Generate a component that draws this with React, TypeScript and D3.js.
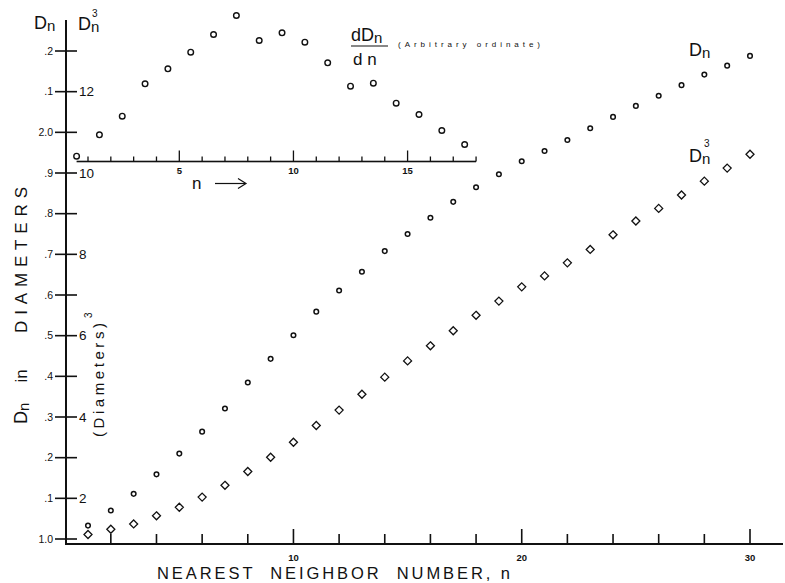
import React from "react";
import * as d3 from "d3";

// Nearest-neighbour number n
const nValues = [1,2,3,4,5,6,7,8,9,10,11,12,13,14,15,16,17,18,19,20,21,22,23,24,25,26,27,28,29,30];
// Distance to the n-th nearest neighbour, in diameters
const dnValues = [1.033,1.070,1.111,1.159,1.210,1.264,1.321,1.385,1.443,1.501,1.559,1.611,1.657,1.708,1.750,1.790,1.829,1.865,1.897,1.929,1.954,1.981,2.010,2.038,2.065,2.090,2.116,2.142,2.164,2.188];
// Cube of that distance, (diameters)^3
const dnCubedValues = [1.11,1.24,1.37,1.57,1.78,2.03,2.32,2.66,3.01,3.38,3.79,4.17,4.56,4.98,5.38,5.75,6.12,6.50,6.85,7.20,7.47,7.79,8.12,8.48,8.82,9.13,9.46,9.80,10.12,10.46];
// Slope dDn/dn between neighbouring n (arbitrary units)
const slopeN = [0.5,1.5,2.5,3.5,4.5,5.5,6.5,7.5,8.5,9.5,10.5,11.5,12.5,13.5,14.5,15.5,16.5,17.5];
const slopeValues = [0.53,2.67,4.53,7.77,9.27,10.93,12.7,14.6,12.1,12.87,11.93,9.87,7.53,7.83,5.83,4.7,3.1,1.7];

// Axis tick values and labels
const dnTicks = [1.0,1.1,1.2,1.3,1.4,1.5,1.6,1.7,1.8,1.9,2.0,2.1,2.2];
const dnTickLabels = ["1.0",".1",".2",".3",".4",".5",".6",".7",".8",".9","2.0",".1",".2"];
const cubeTicks = [2,4,6,8,10,12];
const mainXTicks = [2,4,6,8,10,12,14,16,18,20,22,24,26,28,30];
const mainXLabels = [10,20,30];
const insetTicks = [1,2,3,4,5,6,7,8,9,10,11,12,13,14,15,16,17,18];
const insetLabels = [5,10,15];

const W = 785;
const H = 583;
const FONT = "'Liberation Sans', Arial, sans-serif";
const INK = "#111";

// horizontal or vertical rule drawn as a filled bar
function HRule({ x1, x2, y, w = 1.6 }: { x1: number; x2: number; y: number; w?: number }) {
  return <rect x={Math.min(x1, x2)} y={y - w / 2} width={Math.abs(x2 - x1)} height={w} fill={INK} />;
}
function VRule({ x, y1, y2, w = 1.6 }: { x: number; y1: number; y2: number; w?: number }) {
  return <rect x={x - w / 2} y={Math.min(y1, y2)} width={w} height={Math.abs(y2 - y1)} fill={INK} />;
}

export default function App() {
  const x = d3.scaleLinear().domain([1, 30]).range([88, 750]);
  const yDn = d3.scaleLinear().domain([1.0, 2.2]).range([539, 51]);
  const yCube = d3.scaleLinear().domain([1, 13]).range([539, 51]);
  const ySlope = d3.scaleLinear().domain([0, 15]).range([161.5, 11.5]);

  const axisX = 66;
  const baseY = 544;
  const insetY = 161.5;

  const diamond = (cx: number, cy: number, r: number) =>
    `M${cx},${cy - r}L${cx + r},${cy}L${cx},${cy + r}L${cx - r},${cy}Z`;

  return (
    <svg width={W} height={H} style={{ position: "absolute", left: 0, top: 0, background: "#fff" }} fontFamily={FONT}>
      <rect x={0} y={0} width={W} height={H} fill="#fff" />

      {/* main axes */}
      <VRule x={axisX} y1={20} y2={baseY + 1} w={2} />
      <HRule x1={axisX - 1} x2={783} y={baseY} w={2} />

      {/* left Dn ticks */}
      {dnTicks.map((t, i) => (
        <g key={"dt" + i}>
          <HRule x1={55} x2={77} y={yDn(t)} w={1.6} />
          <text x={53} y={yDn(t) + 3.5} fontSize={10.5} textAnchor="end" fill={INK}>{dnTickLabels[i]}</text>
        </g>
      ))}
      {/* right-hand cube scale labels */}
      {cubeTicks.map((t) => (
        <text key={"ct" + t} x={79} y={yCube(t) + 4.5} fontSize={13.5} fill={INK}>{String(t)}</text>
      ))}

      {/* bottom ticks */}
      {mainXTicks.map((t) => {
        const major = t % 10 === 0;
        return <VRule key={"xt" + t} x={x(t)} y1={baseY} y2={baseY - (major ? 15 : 10)} w={1.6} />;
      })}
      {mainXLabels.map((t) => (
        <text key={"xl" + t} x={x(t)} y={561} fontSize={9.5} textAnchor="middle" fill={INK} fontWeight="bold">{String(t)}</text>
      ))}

      {/* inset axis for dDn/dn */}
      <HRule x1={x(0.5)} x2={x(18)} y={insetY} w={1.6} />
      {insetTicks.map((t) => {
        const major = t % 5 === 0;
        return <VRule key={"it" + t} x={x(t)} y1={insetY} y2={insetY - (major ? 11 : 5)} w={1.3} />;
      })}
      {insetLabels.map((t) => (
        <text key={"il" + t} x={x(t)} y={174} fontSize={9.5} textAnchor="middle" fill={INK} fontWeight="bold">{String(t)}</text>
      ))}
      <text x={192} y={189} fontSize={17} fill={INK}>n</text>
      <HRule x1={215} x2={245} y={183.5} w={1.2} />
      <path d="M238,178.5 L246,183.5 L238,188.5" fill="none" stroke={INK} strokeWidth={1.2} />

      {/* slope points */}
      {slopeN.map((n, i) => (
        <circle key={"s" + i} cx={x(n)} cy={ySlope(slopeValues[i])} r={2.8} fill="none" stroke={INK} strokeWidth={1.4} />
      ))}

      {/* Dn points */}
      {nValues.map((n, i) => (
        <circle key={"d" + i} cx={x(n)} cy={yDn(dnValues[i])} r={2.3} fill="none" stroke={INK} strokeWidth={1.5} />
      ))}

      {/* Dn^3 points */}
      {nValues.map((n, i) => (
        <path key={"c" + i} d={diamond(x(n), yCube(dnCubedValues[i]), 4)} fill="none" stroke={INK} strokeWidth={1.3} />
      ))}

      {/* top-left axis titles */}
      <text x={34} y={29} fontSize={18} fill={INK}>D<tspan fontSize={15} dy={2}>n</tspan></text>
      <text x={78} y={30} fontSize={18} fill={INK}>D<tspan fontSize={15} dy={2}>n</tspan></text>
      <text x={92} y={17} fontSize={10} fill={INK}>3</text>

      {/* curve labels */}
      <text x={689} y={56} fontSize={18} fill={INK}>D<tspan fontSize={15} dy={2}>n</tspan></text>
      <text x={689} y={162} fontSize={18} fill={INK}>D<tspan fontSize={15} dy={2}>n</tspan></text>
      <text x={704} y={147} fontSize={10} fill={INK}>3</text>

      {/* dDn/dn label */}
      <text x={351} y={41} fontSize={18} fill={INK}>dD<tspan fontSize={15} dy={2}>n</tspan></text>
      <HRule x1={351} x2={388} y={46} w={1} />
      <text x={353} y={65} fontSize={17} fill={INK}>d n</text>
      <text x={398} y={47} fontSize={8} fill={INK} textLength={142} lengthAdjust="spacing">(Arbitrary ordinate)</text>

      {/* left vertical title */}
      <text transform="translate(27,260) rotate(-90)" fontSize={17} textAnchor="middle" fill={INK} textLength={146} lengthAdjust="spacing">DIAMETERS</text>
      <text transform="translate(27,376) rotate(-90)" fontSize={17} textAnchor="middle" fill={INK}>in</text>
      <text transform="translate(27,424) rotate(-90)" fontSize={18} fill={INK}>D<tspan fontSize={15} dy={2}>n</tspan></text>

      {/* cube scale title */}
      <text transform="translate(104,437) rotate(-90)" fontSize={15} fill={INK} textLength={114} lengthAdjust="spacing">(Diameters)</text>
      <text transform="translate(92,318) rotate(-90)" fontSize={10} fill={INK}>3</text>

      {/* bottom title */}
      <text x={157} y={579} fontSize={16.5} fill={INK} textLength={353} lengthAdjust="spacing" style={{ whiteSpace: "pre" }}>NEAREST  NEIGHBOR  NUMBER, n</text>
    </svg>
  );
}
